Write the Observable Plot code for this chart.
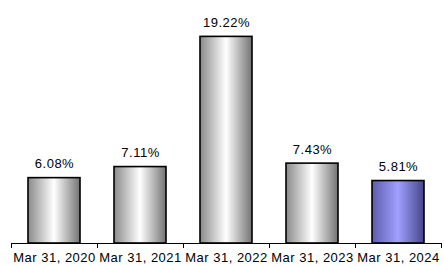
<!DOCTYPE html>
<html>
<head>
<meta charset="utf-8">
<script src="https://cdn.jsdelivr.net/npm/d3@7"></script>
<script src="https://cdn.jsdelivr.net/npm/@observablehq/plot@0.6"></script>
<style>
  body { margin: 0; background: #fff; }
  #chart svg { display: block; }
  #chart text { letter-spacing: 0.5px; }
</style>
</head>
<body>
<div id="chart"></div>
<script>
const categories = ["Mar 31, 2020", "Mar 31, 2021", "Mar 31, 2022", "Mar 31, 2023", "Mar 31, 2024"];
const values = [6.08, 7.11, 19.22, 7.43, 5.81];
const labels = ["6.08%", "7.11%", "19.22%", "7.43%", "5.81%"];
const highlight = [false, false, false, false, true];

const data = categories.map((c, i) => ({cat: c, value: values[i], label: labels[i], hi: highlight[i]}));

const defs = () => {
  const svg = d3.create("svg:g");
  const d = svg.append("defs");
  const g1 = d.append("linearGradient").attr("id", "gGrey").attr("x1", "0").attr("x2", "1").attr("y1", "0").attr("y2", "0");
  g1.append("stop").attr("offset", "0%").attr("stop-color", "#8a8a8a");
  g1.append("stop").attr("offset", "50%").attr("stop-color", "#ffffff");
  g1.append("stop").attr("offset", "100%").attr("stop-color", "#737373");
  const g2 = d.append("linearGradient").attr("id", "gBlue").attr("x1", "0").attr("x2", "1").attr("y1", "0").attr("y2", "0");
  g2.append("stop").attr("offset", "0%").attr("stop-color", "#5c5cae");
  g2.append("stop").attr("offset", "50%").attr("stop-color", "#a0a0ff");
  g2.append("stop").attr("offset", "100%").attr("stop-color", "#46468a");
  return svg.node();
};

const bandTicks = (index, scales, values, dims, context) => {
  const x = scales.x, y = scales.y;
  const step = x.step(), bw = x.bandwidth();
  const y0 = y(0);
  const g = d3.create("svg:g").attr("stroke", "#000").attr("stroke-width", 1);
  const xs = categories.map(c => x(c) + bw / 2 - step / 2);
  xs.push(x(categories[categories.length - 1]) + bw / 2 + step / 2);
  g.append("line").attr("x1", xs[0]).attr("x2", xs[xs.length - 1]).attr("y1", y0 + 0.5).attr("y2", y0 + 0.5);
  for (const v of xs) {
    g.append("line").attr("x1", Math.round(v) + 0.5).attr("x2", Math.round(v) + 0.5).attr("y1", y0).attr("y2", y0 + 5);
  }
  return g.node();
};

const plot = Plot.plot({
  width: 444,
  height: 266,
  marginTop: 28,
  marginBottom: 23,
  marginLeft: 10,
  marginRight: 2,
  style: {fontFamily: "Liberation Sans, Arial, sans-serif", fontSize: "13px", color: "#000", background: "#fff"},
  x: {domain: categories, paddingInner: 0.4, paddingOuter: 0.2, axis: null},
  y: {domain: [0, 20], axis: null},
  marks: [
    defs,
    Plot.barY(data, {x: "cat", y: "value", fill: d => d.hi ? "url(#gBlue)" : "url(#gGrey)", stroke: "#000", strokeWidth: 1.6}),
    Plot.text(data, {x: "cat", y: "value", text: "label", dy: -14, fontSize: 13, fill: "#000"}),
    Plot.text(data, {x: "cat", y: 0, text: "cat", dy: 14, fontSize: 13, fill: "#000"}),
    bandTicks
  ]
});
document.getElementById("chart").appendChild(plot);
</script>
</body>
</html>
